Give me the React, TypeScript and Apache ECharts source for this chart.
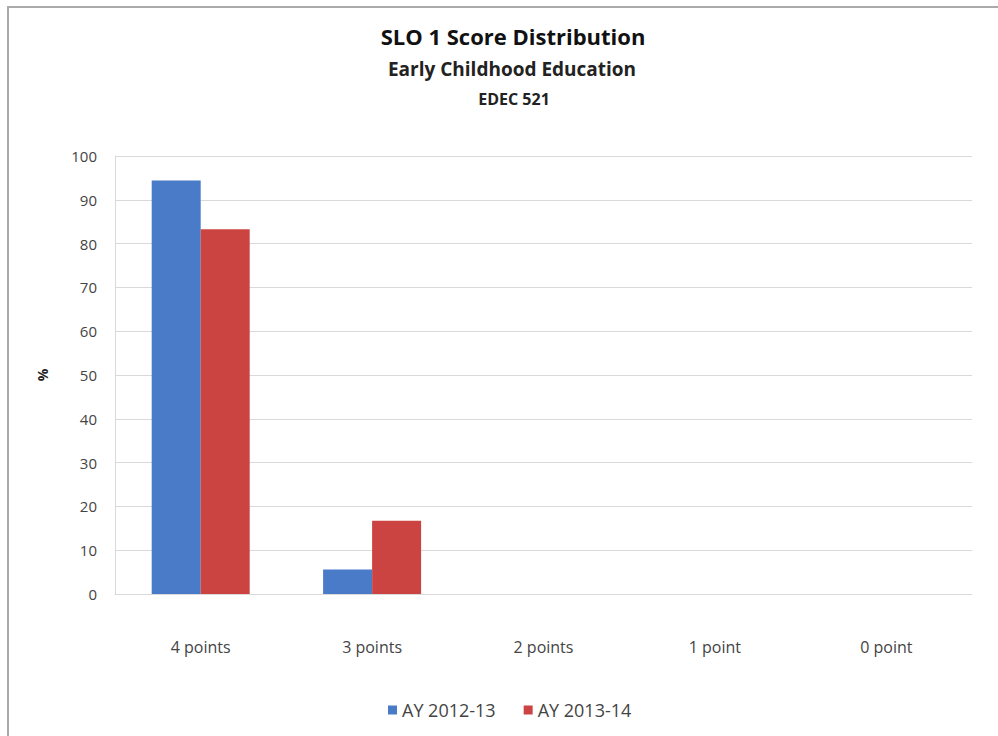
import React, { useEffect, useRef } from "react";
import * as echarts from "echarts";

const categories = ["4 points", "3 points", "2 points", "1 point", "0 point"];
const seriesNames = ["AY 2012-13", "AY 2013-14"];
const ay201213 = [94.4, 5.6, 0, 0, 0];
const ay201314 = [83.3, 16.7, 0, 0, 0];
const titleLines = ["SLO 1 Score Distribution", "Early Childhood Education", "EDEC 521"];

export default function App() {
  const ref = useRef<HTMLDivElement>(null);
  useEffect(() => {
    if (!ref.current) return;
    const chart = echarts.init(ref.current, undefined, { renderer: "svg" });
    const font = "'Open Sans', 'Noto Sans', sans-serif";
    chart.setOption({
      animation: false,
      backgroundColor: "#ffffff",
      textStyle: { fontFamily: font },
      title: [
        { text: titleLines[0], left: 508, top: 20, textAlign: "center", textStyle: { fontSize: 22, fontWeight: "bold", color: "#111", fontFamily: font } },
        { text: titleLines[1], left: 507, top: 54, textAlign: "center", textStyle: { fontSize: 19, fontWeight: "bold", color: "#222", fontFamily: font } },
        { text: titleLines[2], left: 509, top: 86, textAlign: "center", textStyle: { fontSize: 16, fontWeight: "bold", color: "#222", fontFamily: font } },
      ],
      graphic: [
        { type: "line", shape: { x1: 7, y1: 7, x2: 998, y2: 7 }, style: { stroke: "#aaaaaa", lineWidth: 2 } },
        { type: "line", shape: { x1: 8, y1: 7, x2: 8, y2: 736 }, style: { stroke: "#aaaaaa", lineWidth: 2 } },
      ],
      legend: {
        data: seriesNames,
        left: 383,
        bottom: 12,
        itemWidth: 9,
        itemHeight: 9,
        itemGap: 28,
        icon: "rect",
        textStyle: { fontSize: 18, color: "#444", fontFamily: font },
      },
      grid: { left: 115, right: 26, top: 156, bottom: 142, containLabel: false },
      xAxis: {
        type: "category",
        data: categories,
        axisLine: { show: true, lineStyle: { color: "#d9d9d9" } },
        axisTick: { show: false },
        axisLabel: { fontSize: 16, color: "#444", margin: 45, fontFamily: font },
      },
      yAxis: {
        type: "value",
        min: 0,
        max: 100,
        interval: 10,
        name: "%",
        nameLocation: "middle",
        nameGap: 66,
        nameRotate: 90,
        nameTextStyle: { fontSize: 14, fontWeight: "bold", color: "#222" },
        axisLine: { show: true, lineStyle: { color: "#d9d9d9" } },
        axisTick: { show: false },
        axisLabel: { fontSize: 15, color: "#444", margin: 18, fontFamily: font },
        splitLine: { lineStyle: { color: "#d9d9d9" } },
      },
      series: [
        { name: seriesNames[0], type: "bar", data: ay201213, barWidth: 49, barGap: "0%", itemStyle: { color: "#4a7bc8" } },
        { name: seriesNames[1], type: "bar", data: ay201314, barWidth: 49, barGap: "0%", itemStyle: { color: "#cc4441" } },
      ],
    });
    return () => chart.dispose();
  }, []);
  return <div ref={ref} style={{ position: "absolute", left: 0, top: 0, width: 998, height: 736 }} />;
}
